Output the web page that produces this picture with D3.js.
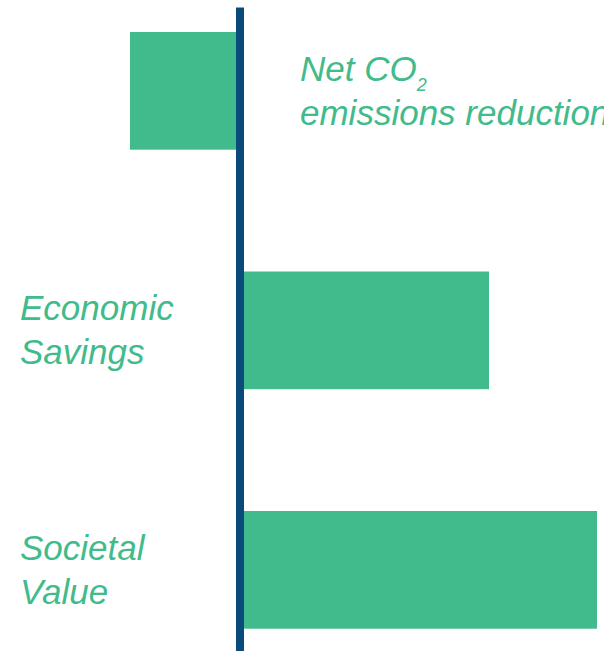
<!DOCTYPE html>
<html>
<head>
<meta charset="utf-8">
<script src="https://cdn.jsdelivr.net/npm/d3@7"></script>
<style>
  html, body { margin: 0; padding: 0; background: #ffffff; }
  svg { display: block; }
</style>
</head>
<body>
<svg id="chart" width="604" height="651"></svg>
<script>
// Data
const categories = ["Net CO2 emissions reduction", "Economic Savings", "Societal Value"];
const values = [-110, 249, 357];
const labelLines = [["Net CO", "emissions reduction"], ["Economic", "Savings"], ["Societal", "Value"]];

const green = "#41BB8B";
const navy = "#0B4B7C";

const svg = d3.select("#chart");

const x = d3.scaleLinear().domain([-110, 357]).range([130, 597]);
const y = d3.scaleBand().domain(categories).range([32, 628.7]).paddingInner(0.5086).paddingOuter(0);

svg.selectAll("rect.bar")
  .data(categories)
  .join("rect")
  .attr("class", "bar")
  .attr("x", (d, i) => Math.min(x(0), x(values[i])))
  .attr("width", (d, i) => Math.abs(x(values[i]) - x(0)))
  .attr("y", d => y(d))
  .attr("height", y.bandwidth())
  .attr("fill", green);

// zero axis line
svg.append("line")
  .attr("x1", x(0)).attr("x2", x(0))
  .attr("y1", 7.5).attr("y2", 651)
  .attr("stroke", navy)
  .attr("stroke-width", 8);

// labels
const fontSize = 35;
categories.forEach((c, i) => {
  const cy = y(c) + y.bandwidth() / 2;
  const tx = values[i] < 0 ? 300 : 20;
  const t = svg.append("text")
    .attr("x", tx)
    .attr("y", cy - 10)
    .attr("fill", green)
    .style("font-family", "'Liberation Sans', Arial, Helvetica, sans-serif")
    .style("font-style", "italic")
    .style("font-size", fontSize + "px");
  const lines = labelLines[i];
  t.append("tspan").attr("x", tx).attr("y", cy - 10).text(lines[0]);
  if (i === 0) {
    t.append("tspan").attr("dx", 0).attr("dy", 10).style("font-size", "18px").text("2");
  }
  t.append("tspan").attr("x", tx).attr("y", cy + 34).text(lines[1]);
});
</script>
</body>
</html>
